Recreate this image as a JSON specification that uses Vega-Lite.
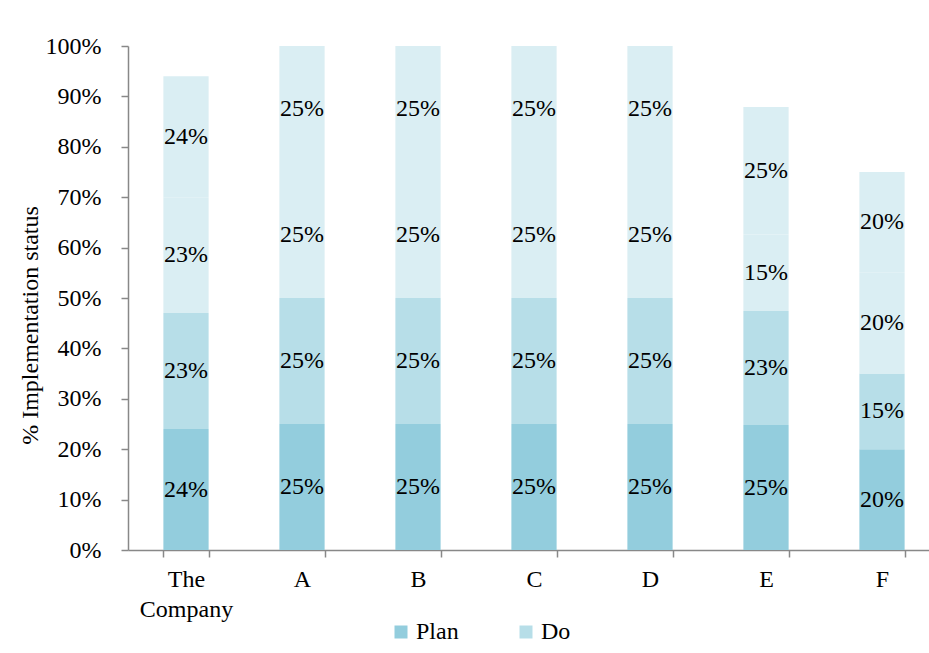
{
  "$schema": "https://vega.github.io/schema/vega-lite/v6.json",
  "width": 812,
  "height": 504,
  "autosize": {"type": "none"},
  "padding": {"left": 128, "top": 46, "right": 0, "bottom": 103},
  "background": "white",
  "config": {"font": "Liberation Serif", "view": {"stroke": null}},
  "data": {
    "values": [
      {"org": "The Company", "stage": "Plan", "step": 1, "value": 0.24},
      {"org": "The Company", "stage": "Do", "step": 2, "value": 0.23},
      {"org": "The Company", "stage": "Check", "step": 3, "value": 0.23},
      {"org": "The Company", "stage": "Act", "step": 4, "value": 0.24},
      {"org": "A", "stage": "Plan", "step": 1, "value": 0.25},
      {"org": "A", "stage": "Do", "step": 2, "value": 0.25},
      {"org": "A", "stage": "Check", "step": 3, "value": 0.25},
      {"org": "A", "stage": "Act", "step": 4, "value": 0.25},
      {"org": "B", "stage": "Plan", "step": 1, "value": 0.25},
      {"org": "B", "stage": "Do", "step": 2, "value": 0.25},
      {"org": "B", "stage": "Check", "step": 3, "value": 0.25},
      {"org": "B", "stage": "Act", "step": 4, "value": 0.25},
      {"org": "C", "stage": "Plan", "step": 1, "value": 0.25},
      {"org": "C", "stage": "Do", "step": 2, "value": 0.25},
      {"org": "C", "stage": "Check", "step": 3, "value": 0.25},
      {"org": "C", "stage": "Act", "step": 4, "value": 0.25},
      {"org": "D", "stage": "Plan", "step": 1, "value": 0.25},
      {"org": "D", "stage": "Do", "step": 2, "value": 0.25},
      {"org": "D", "stage": "Check", "step": 3, "value": 0.25},
      {"org": "D", "stage": "Act", "step": 4, "value": 0.25},
      {"org": "E", "stage": "Plan", "step": 1, "value": 0.248},
      {"org": "E", "stage": "Do", "step": 2, "value": 0.226},
      {"org": "E", "stage": "Check", "step": 3, "value": 0.152},
      {"org": "E", "stage": "Act", "step": 4, "value": 0.253},
      {"org": "F", "stage": "Plan", "step": 1, "value": 0.2},
      {"org": "F", "stage": "Do", "step": 2, "value": 0.15},
      {"org": "F", "stage": "Check", "step": 3, "value": 0.2},
      {"org": "F", "stage": "Act", "step": 4, "value": 0.2}
    ]
  },
  "layer": [
    {
      "mark": {"type": "bar"},
      "encoding": {
        "x": {
          "field": "org",
          "type": "nominal",
          "sort": null,
          "scale": {"paddingInner": 0.61, "paddingOuter": 0.305},
          "axis": {
            "title": null,
            "labelAngle": 0,
            "labelFont": "Liberation Serif",
            "labelFontSize": 24,
            "labelColor": "black",
            "labelPadding": 10,
            "labelLineHeight": 30,
            "labelExpr": "datum.label == 'The Company' ? ['The', 'Company'] : datum.label",
            "tickBand": "extent",
            "tickSize": 7,
            "tickColor": "#888888",
            "domainColor": "#888888",
            "domainWidth": 1.5,
            "tickWidth": 1.5
          }
        },
        "y": {
          "field": "value",
          "type": "quantitative",
          "stack": "zero",
          "scale": {"domain": [0, 1]},
          "axis": {
            "title": "% Implementation status",
            "titleFont": "Liberation Serif",
            "titleFontSize": 24,
            "titleFontWeight": "normal",
            "titleColor": "black",
            "titleX": -98,
            "titleY": 279,
            "titleAlign": "center",
            "titleBaseline": "middle",
            "values": [0, 0.1, 0.2, 0.3, 0.4, 0.5, 0.6, 0.7, 0.8, 0.9, 1],
            "format": ".0%",
            "labelFont": "Liberation Serif",
            "labelFontSize": 24,
            "labelColor": "black",
            "labelPadding": 20,
            "tickSize": 7,
            "tickColor": "#888888",
            "domainColor": "#888888",
            "domainWidth": 1.5,
            "tickWidth": 1.5,
            "grid": false
          }
        },
        "color": {
          "field": "stage",
          "type": "nominal",
          "scale": {
            "domain": ["Plan", "Do", "Check", "Act"],
            "range": ["#93CDDD", "#B7DEE8", "#DAEEF3", "#DAEEF3"]
          },
          "legend": {
            "values": ["Plan", "Do"],
            "title": null,
            "orient": "none",
            "direction": "horizontal",
            "legendX": 261,
            "legendY": 574,
            "symbolType": "square",
            "symbolSize": 169,
            "symbolStrokeWidth": 0,
            "labelFont": "Liberation Serif",
            "labelFontSize": 24,
            "labelColor": "black",
            "labelOffset": 3,
            "columnPadding": 55
          }
        },
        "order": {"field": "step", "type": "quantitative"}
      }
    },
    {
      "transform": [
        {"stack": "value", "groupby": ["org"], "sort": [{"field": "step"}], "as": ["v0", "v1"]},
        {"fold": ["v0", "v1"], "as": ["edge", "pos"]}
      ],
      "mark": {"type": "text", "font": "Liberation Serif", "fontSize": 24, "color": "black"},
      "encoding": {
        "x": {"field": "org", "type": "nominal", "sort": null},
        "y": {"field": "pos", "type": "quantitative", "aggregate": "mean", "stack": null},
        "detail": {"field": "stage"},
        "text": {"field": "value", "type": "quantitative", "aggregate": "min", "format": ".0%"}
      }
    }
  ]
}
